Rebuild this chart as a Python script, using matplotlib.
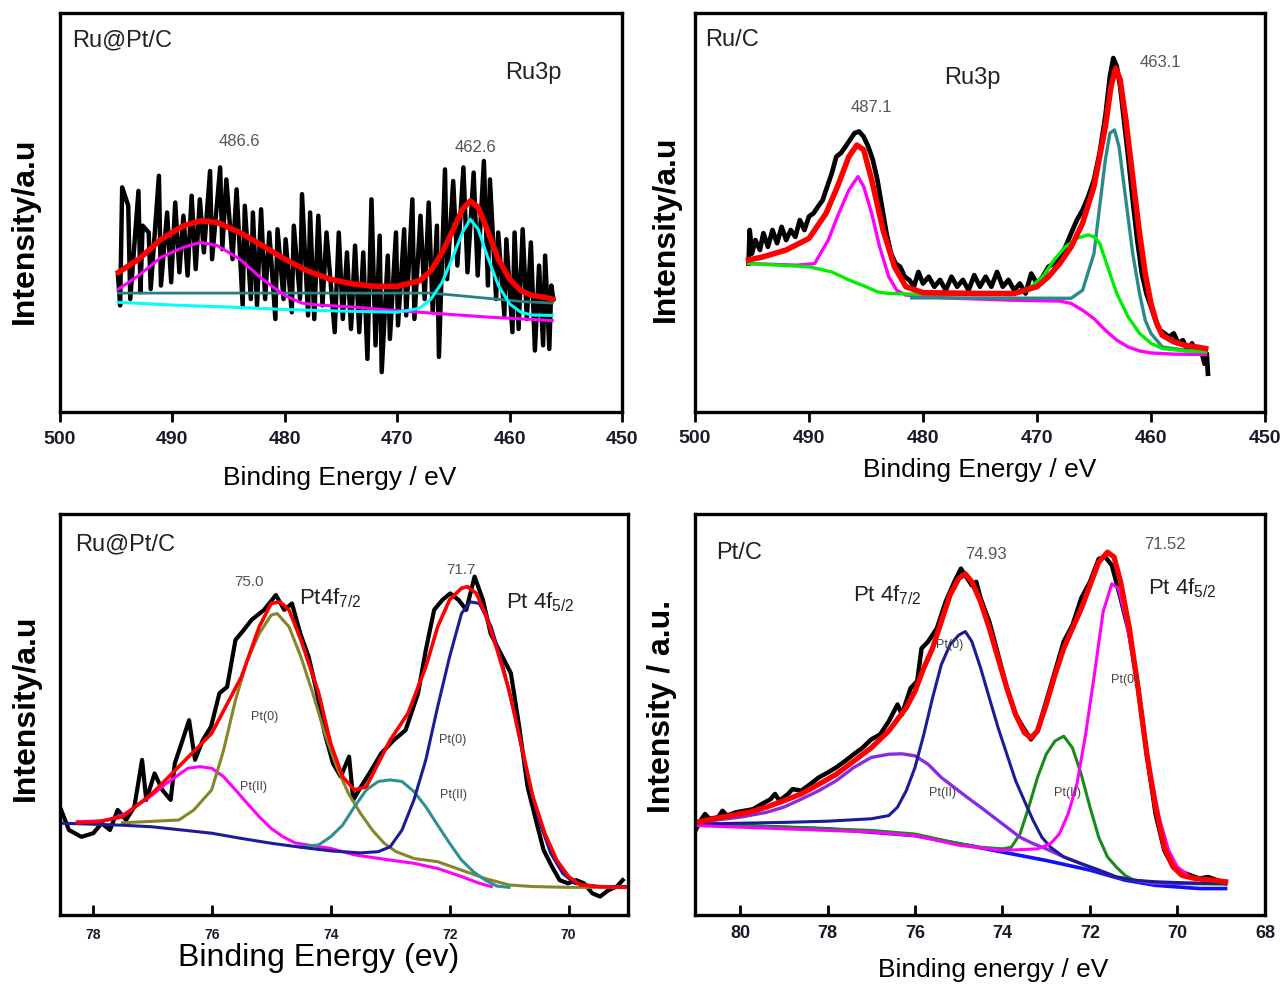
import numpy as np
import matplotlib
matplotlib.use("Agg")
import matplotlib.pyplot as plt

plt.rcParams['font.family'] = ['Liberation Sans', 'DejaVu Sans']
plt.rcParams['mathtext.default'] = 'regular'

# ---------------- Ru@Pt/C, Ru3p ----------------
p1_raw = [(494.84, 34.2), (494.65, 26.7), (494.47, 56.3), (493.93, 51.7), (493.75, 28.3), (493.02, 55.4),
          (492.84, 30.0), (492.65, 46.7), (492.11, 45.0), (491.93, 30.8), (491.20, 59.2), (491.02, 31.7),
          (490.47, 50.0), (490.11, 32.5), (489.75, 52.5), (489.38, 35.0), (489.02, 49.2), (488.65, 34.2),
          (488.29, 54.2), (487.93, 35.8), (487.56, 53.3), (487.20, 40.0), (486.65, 60.4), (486.47, 38.3),
          (485.75, 61.3), (485.56, 40.8), (485.20, 58.3), (484.65, 38.3), (484.29, 55.8), (483.75, 26.7),
          (483.56, 51.7), (483.02, 28.3), (482.84, 50.0), (482.47, 26.7), (482.11, 50.8), (481.75, 28.3),
          (481.38, 45.0), (480.84, 23.3), (480.65, 45.8), (480.11, 28.3), (479.93, 43.3), (479.38, 25.0),
          (479.20, 46.7), (478.65, 28.3), (478.47, 54.6), (477.93, 24.2), (477.75, 50.0), (477.38, 23.3),
          (477.02, 49.2), (476.65, 26.7), (476.29, 45.0), (475.56, 20.0), (475.20, 45.0), (474.84, 23.3),
          (474.47, 40.0), (474.11, 20.8), (473.75, 41.7), (473.38, 20.0), (473.02, 40.0), (472.65, 13.3),
          (472.29, 53.3), (471.93, 16.7), (471.56, 44.2), (471.38, 10.0), (470.84, 39.2), (470.65, 18.3),
          (470.11, 45.0), (469.93, 21.7), (469.38, 45.8), (469.20, 24.2), (468.65, 53.3), (468.47, 23.3),
          (467.93, 49.2), (467.56, 28.3), (467.20, 52.5), (466.84, 25.0), (466.47, 46.7), (466.29, 13.8),
          (465.75, 60.8), (465.56, 33.3), (465.02, 57.9), (464.65, 36.7), (464.11, 61.3), (463.75, 35.0),
          (463.20, 60.0), (462.84, 34.2), (462.29, 62.9), (461.93, 31.7), (461.75, 58.3), (461.20, 28.3),
          (461.02, 45.0), (460.47, 24.2), (460.29, 43.3), (459.75, 20.0), (459.56, 45.0), (459.20, 20.8),
          (458.84, 45.8), (458.47, 23.3), (458.11, 42.5), (457.75, 15.4), (457.38, 36.7), (457.02, 16.7),
          (456.84, 39.2), (456.47, 15.8), (456.29, 31.7), (456.11, 28.3)]
p1_fit = [(494.8, 35.0), (493, 38.3), (491, 43.3), (489, 46.7), (487.5, 47.9), (486, 47.5), (484, 45.0),
          (482, 41.7), (480, 38.3), (478, 35.4), (476, 33.3), (474, 32.1), (472, 31.5), (470, 31.5),
          (468, 32.9), (467, 35.4), (466, 40.0), (465, 45.8), (464.2, 50.8), (463.5, 52.9), (462.8, 51.3),
          (462, 45.8), (461, 38.3), (460, 33.3), (459, 30.4), (458, 29.2), (457, 28.8), (456.2, 28.3)]
p1_mag = [(494.8, 30.8), (493, 34.2), (491, 38.8), (489, 41.3), (487.5, 42.5), (486, 41.7), (484, 38.3),
          (482, 33.3), (480, 29.2), (478.5, 27.3), (477, 26.8), (474, 26.3), (470, 25.4), (466, 24.6),
          (462, 23.8), (458, 23.2), (456.2, 22.9)]
p1_teal = [(494.8, 29.8), (467, 29.8), (465, 29.3), (462, 28.5), (459, 27.7), (456.2, 27.3)]
p1_cyan = [(494.8, 27.5), (490, 26.8), (485, 26.3), (480, 25.7), (475, 25.3), (470, 25.0), (468, 26.0),
           (467, 28.3), (466, 32.5), (465, 39.2), (464.2, 45.0), (463.5, 48.3), (462.8, 45.8), (462, 39.2),
           (461, 31.7), (460, 27.1), (459, 25.0), (458, 24.3), (456.2, 24.2)]

# ---------------- Ru/C, Ru3p ----------------
p2_raw = [(495.3, 37.2), (495.2, 45.6), (495.0, 39.7), (494.7, 43.1), (494.3, 40.6), (494.0, 44.8),
          (493.6, 41.4), (493.2, 45.6), (492.8, 42.3), (492.4, 46.4), (492.0, 43.1), (491.6, 45.6),
          (491.2, 43.9), (490.8, 48.1), (490.4, 45.6), (490.0, 49.0), (489.6, 49.8), (489.2, 51.5),
          (488.8, 53.1), (488.4, 56.5), (488.0, 59.8), (487.6, 64.0), (487.2, 64.9), (486.8, 66.5),
          (486.4, 68.2), (486.0, 69.9), (485.6, 70.3), (485.2, 69.0), (484.8, 66.5), (484.4, 63.2),
          (484.0, 58.2), (483.6, 51.5), (483.2, 44.8), (482.8, 39.7), (482.4, 37.2), (482.0, 36.4),
          (481.6, 33.9), (481.2, 33.1), (480.8, 31.4), (480.4, 35.1), (480.0, 32.2), (479.5, 33.9),
          (479.0, 31.4), (478.5, 33.1), (478.0, 30.5), (477.5, 33.9), (477.0, 31.4), (476.5, 33.1),
          (476.0, 30.5), (475.5, 34.3), (475.0, 31.4), (474.5, 33.9), (474.0, 31.4), (473.5, 35.1),
          (473.0, 31.4), (472.5, 33.1), (472.0, 30.5), (471.5, 32.2), (471.0, 29.7), (470.5, 34.7),
          (470.0, 32.2), (469.5, 33.9), (469.0, 36.4), (468.5, 37.2), (468.0, 38.9), (467.5, 41.4),
          (467.0, 44.8), (466.5, 48.1), (466.0, 50.6), (465.5, 54.0), (465.0, 58.2), (464.5, 64.9),
          (464.0, 74.1), (463.6, 84.1), (463.3, 88.7), (463.0, 86.6), (462.7, 81.6), (462.3, 71.5),
          (462.0, 64.0), (461.6, 53.1), (461.2, 43.1), (460.8, 34.7), (460.4, 29.7), (460.0, 26.4),
          (459.6, 23.0), (459.2, 20.5), (458.8, 19.7), (458.4, 18.8), (458.0, 19.7), (457.6, 17.2),
          (457.2, 18.0), (456.8, 15.5), (456.4, 17.2), (456.0, 14.6), (455.6, 15.5), (455.3, 12.1),
          (455.1, 14.6), (455.0, 9.6)]
p2_fit = [(495.3, 38.1), (494, 38.9), (492, 40.6), (490, 43.5), (488.5, 49.8), (487.5, 56.5), (486.5, 64.0),
          (485.8, 66.9), (485.2, 65.7), (484.5, 58.2), (483.5, 45.6), (482.5, 36.4), (481.5, 31.4),
          (480, 29.9), (475, 29.7), (472, 29.7), (470, 31.4), (469, 33.9), (468, 37.2), (467, 41.4),
          (466, 47.3), (465, 56.5), (464, 71.5), (463.5, 81.6), (463.1, 86.2), (462.7, 83.3), (462.2, 73.2),
          (461.5, 56.5), (461, 44.8), (460.5, 34.7), (460, 27.2), (459.5, 22.2), (459, 19.2), (458, 17.6),
          (457, 16.7), (456, 16.3), (455.2, 15.9)]
p2_mag = [(495.3, 37.2), (491, 36.8), (489.5, 37.2), (489, 39.7), (488.3, 43.1), (487.5, 49.0), (486.5, 55.6),
          (485.7, 59.0), (485.2, 56.5), (484.5, 49.8), (483.8, 41.4), (483, 33.9), (482.3, 30.5),
          (481.5, 29.3), (478, 28.6), (475, 28.3), (472, 28.0), (468, 27.8), (467, 27.2), (466, 25.5),
          (465, 23.4), (464, 20.5), (463, 18.0), (462, 16.3), (461, 15.3), (460, 14.8), (458, 14.5),
          (455.2, 14.4)]
p2_green = [(495.3, 37.2), (490, 36.4), (488, 35.1), (486.5, 33.1), (485, 31.4), (484, 30.1), (483, 29.7),
            (480, 29.5), (475, 29.5), (472, 29.7), (470.5, 31.4), (469.5, 33.9), (468.5, 38.1), (467.5, 41.4),
            (466.5, 43.5), (465.5, 44.4), (465, 43.9), (464.5, 42.3), (464, 38.1), (463.5, 33.9), (463, 29.7),
            (462, 23.8), (461, 19.7), (460, 17.2), (459, 15.9), (457, 15.3), (455.2, 15.1)]
p2_teal = [(481, 28.6), (467, 28.5), (466, 30.5), (465, 39.7), (464.5, 51.5), (464, 63.2), (463.6, 69.9),
           (463.2, 70.7), (462.8, 66.5), (462.2, 53.1), (461.6, 39.7), (461, 29.7), (460.5, 23.0),
           (460, 19.7), (459, 16.3), (457, 15.5), (455.2, 15.1)]

# ---------------- Ru@Pt/C, Pt4f ----------------
p3_raw = [(78.53, 26.2), (78.40, 21.2), (78.19, 19.5), (77.99, 20.4), (77.85, 22.9), (77.71, 21.2),
          (77.58, 26.2), (77.44, 23.7), (77.30, 27.0), (77.17, 38.7), (77.10, 28.7), (76.96, 35.3),
          (76.83, 31.2), (76.69, 28.7), (76.62, 37.8), (76.49, 43.6), (76.38, 48.6), (76.28, 38.7),
          (76.15, 43.6), (76.01, 47.0), (75.87, 55.3), (75.74, 56.9), (75.60, 68.6), (75.46, 71.1),
          (75.33, 73.6), (75.12, 76.1), (74.92, 79.8), (74.78, 76.1), (74.65, 77.7), (74.51, 70.2),
          (74.37, 64.4), (74.24, 56.1), (74.10, 45.3), (73.96, 37.8), (73.83, 34.5), (73.69, 39.5),
          (73.62, 28.7), (73.49, 32.0), (73.35, 35.3), (73.15, 40.3), (72.94, 43.6), (72.74, 46.1),
          (72.53, 55.3), (72.40, 66.1), (72.26, 76.1), (72.12, 78.6), (71.99, 80.2), (71.85, 78.6),
          (71.72, 76.1), (71.58, 84.4), (71.44, 78.6), (71.31, 70.2), (71.17, 66.1), (70.97, 60.3),
          (70.83, 47.0), (70.69, 32.0), (70.55, 23.7), (70.42, 16.2), (70.28, 12.1), (70.15, 8.7),
          (70.01, 7.9), (69.87, 8.7), (69.74, 7.9), (69.60, 5.4), (69.47, 4.6), (69.33, 6.2),
          (69.19, 7.1), (69.09, 8.7)]
p3_fit = [(78.25, 23.0), (77.9, 23.3), (77.5, 24.5), (77.0, 30.3), (76.5, 37.8), (76.0, 45.3), (75.5, 59.4),
          (75.2, 71.9), (75.0, 77.7), (74.85, 78.1), (74.7, 76.1), (74.5, 68.6), (74.2, 55.3), (74.0, 42.8),
          (73.8, 34.5), (73.6, 31.2), (73.4, 32.0), (73.2, 37.8), (73.0, 43.6), (72.7, 50.3), (72.4, 61.9),
          (72.2, 71.9), (72.0, 78.6), (71.8, 81.5), (71.7, 81.9), (71.55, 80.2), (71.4, 75.2), (71.2, 66.1),
          (71.0, 56.1), (70.8, 42.8), (70.6, 29.5), (70.4, 20.4), (70.2, 13.7), (70.0, 9.6), (69.8, 7.5),
          (69.5, 7.1), (69.05, 6.9)]
p3_olive = [(77.5, 23.0), (76.55, 23.7), (76.3, 26.2), (76.0, 31.2), (75.8, 41.1), (75.6, 53.6), (75.4, 63.6),
            (75.2, 70.2), (75.0, 74.8), (74.9, 75.2), (74.7, 71.9), (74.5, 64.4), (74.3, 55.3), (74.1, 45.3),
            (73.9, 37.0), (73.7, 30.3), (73.5, 25.4), (73.3, 21.2), (73.1, 17.9), (72.9, 15.8), (72.6, 14.1),
            (72.2, 13.3), (71.8, 11.2), (71.4, 9.1), (71.0, 7.5), (70.6, 7.1), (70.0, 6.9), (69.1, 6.9)]
p3_mag = [(78.26, 23.3), (77.8, 23.5), (77.5, 24.9), (77.2, 27.8), (77.0, 29.9), (76.8, 32.4), (76.6, 34.5),
          (76.4, 36.6), (76.2, 37.0), (76.0, 36.6), (75.8, 34.5), (75.6, 31.2), (75.4, 27.8), (75.2, 24.5),
          (75.0, 21.6), (74.8, 19.5), (74.6, 18.0), (74.4, 17.5), (74.0, 16.6), (73.6, 15.0), (73.0, 13.7),
          (72.6, 12.9), (72.2, 11.6), (71.8, 9.6), (71.5, 7.9), (71.3, 7.1)]
p3_teal = [(74.51, 17.0), (74.2, 17.5), (74.0, 19.5), (73.8, 22.4), (73.6, 27.0), (73.4, 31.2), (73.2, 33.3),
           (73.0, 33.7), (72.8, 33.3), (72.6, 30.8), (72.4, 27.0), (72.2, 22.4), (72.0, 17.9), (71.8, 13.7),
           (71.6, 10.8), (71.4, 8.7), (71.2, 7.2), (71.0, 6.9)]
p3_navy = [(78.53, 22.9), (77.5, 22.4), (77.0, 22.0), (76.5, 21.2), (76.0, 20.4), (75.5, 19.1), (75.0, 17.9),
           (74.5, 16.9), (74.0, 16.0), (73.5, 15.5), (73.2, 15.8), (73.0, 17.0), (72.8, 21.2), (72.6, 28.7),
           (72.4, 38.7), (72.2, 52.0), (72.0, 64.4), (71.8, 75.2), (71.65, 78.1), (71.5, 77.7), (71.3, 71.9),
           (71.1, 61.9), (70.9, 49.5), (70.7, 35.3), (70.5, 23.7), (70.3, 15.4), (70.1, 10.4), (69.9, 7.9),
           (69.5, 7.1), (69.01, 7.1)]

# ---------------- Pt/C, Pt4f ----------------
p4_raw = [(81.0, 21.5), (80.9, 23.6), (80.8, 25.2), (80.7, 24.0), (80.5, 24.4), (80.4, 26.0), (80.3, 24.8),
          (80.1, 25.6), (79.9, 26.0), (79.7, 26.4), (79.5, 27.7), (79.3, 28.9), (79.2, 30.2), (79.1, 28.5),
          (78.9, 30.2), (78.8, 31.4), (78.6, 31.0), (78.4, 32.6), (78.2, 34.3), (78.0, 35.5), (77.8, 36.8),
          (77.6, 38.4), (77.4, 40.1), (77.2, 41.7), (77.0, 43.8), (76.8, 45.0), (76.6, 48.3), (76.4, 52.5),
          (76.3, 50.0), (76.1, 56.6), (75.95, 58.3), (75.85, 66.5), (75.7, 68.2), (75.5, 71.5), (75.3, 78.1),
          (75.1, 83.1), (74.95, 86.4), (74.85, 84.7), (74.7, 82.2), (74.6, 83.1), (74.5, 79.0), (74.3, 73.1),
          (74.1, 64.9), (73.9, 56.6), (73.7, 50.0), (73.5, 46.3), (73.35, 43.8), (73.2, 45.9), (73.0, 53.3),
          (72.8, 60.7), (72.6, 68.2), (72.4, 72.3), (72.2, 79.0), (72.0, 83.1), (71.8, 88.8), (71.65, 89.3),
          (71.5, 87.2), (71.3, 79.0), (71.1, 70.2), (70.9, 56.6), (70.7, 40.1), (70.5, 25.2), (70.3, 16.1),
          (70.1, 12.0), (69.9, 10.7), (69.7, 9.9), (69.5, 9.1), (69.3, 9.5), (69.1, 8.7), (68.9, 7.9)]
p4_fit = [(81.0, 23.1), (80.6, 24.0), (80.2, 24.8), (79.8, 25.6), (79.4, 26.9), (79.0, 28.5), (78.6, 30.2),
          (78.2, 32.6), (77.8, 35.1), (77.4, 38.4), (77.0, 41.7), (76.6, 45.9), (76.2, 51.7), (76.0, 55.8),
          (75.8, 61.6), (75.6, 66.5), (75.4, 73.1), (75.2, 79.8), (75.0, 83.9), (74.85, 85.1), (74.7, 83.1),
          (74.5, 78.1), (74.3, 71.5), (74.1, 64.0), (73.9, 56.6), (73.7, 50.0), (73.5, 45.5), (73.35, 44.2),
          (73.2, 45.9), (73.0, 52.5), (72.8, 59.9), (72.6, 66.5), (72.4, 71.5), (72.2, 76.4), (72.0, 82.2),
          (71.8, 88.0), (71.6, 90.5), (71.45, 89.3), (71.3, 83.1), (71.1, 71.5), (70.9, 56.6), (70.7, 40.1),
          (70.5, 26.9), (70.3, 16.9), (70.1, 12.0), (69.9, 9.9), (69.6, 9.1), (69.2, 8.7), (68.9, 8.3)]
p4_navy = [(81.0, 22.7), (79.0, 23.1), (78.0, 23.4), (77.0, 24.0), (76.6, 24.8), (76.4, 26.9), (76.2, 31.0),
           (76.0, 36.8), (75.8, 45.0), (75.6, 54.1), (75.4, 62.4), (75.2, 67.4), (75.0, 69.8), (74.85, 70.7),
           (74.7, 68.2), (74.5, 61.6), (74.3, 54.1), (74.1, 46.7), (73.9, 40.1), (73.7, 33.5), (73.5, 28.5),
           (73.3, 23.6), (73.1, 19.4), (72.9, 16.9), (72.6, 14.5), (72.2, 12.8), (71.8, 11.2), (71.4, 9.5),
           (71.0, 8.7), (70.5, 8.3), (69.5, 7.9), (68.9, 7.9)]
p4_purple = [(81.0, 23.1), (80.0, 24.4), (79.4, 25.6), (79.0, 26.9), (78.6, 28.9), (78.2, 31.0), (77.8, 33.5),
             (77.4, 36.8), (77.0, 39.3), (76.6, 40.1), (76.3, 40.2), (76.0, 39.7), (75.7, 37.6), (75.4, 34.3),
             (75.1, 31.8), (74.8, 29.3), (74.5, 26.9), (74.2, 24.4), (73.9, 21.9), (73.6, 19.4), (73.3, 17.8),
             (73.0, 16.5), (72.6, 14.5), (72.2, 12.8), (71.8, 11.2), (71.4, 9.5), (71.0, 8.7), (70.5, 7.9),
             (69.5, 7.9), (68.9, 7.9)]
p4_green = [(81.0, 22.7), (79.0, 21.9), (77.0, 21.1), (76.0, 20.2), (75.5, 19.0), (75.0, 17.8), (74.5, 16.9),
            (74.0, 16.5), (73.8, 16.9), (73.6, 20.2), (73.4, 26.9), (73.2, 34.3), (73.0, 40.1), (72.8, 43.4),
            (72.6, 44.6), (72.4, 41.7), (72.2, 35.1), (72.0, 26.9), (71.8, 19.4), (71.6, 14.5), (71.4, 12.0),
            (71.2, 9.9), (71.0, 8.7), (70.5, 7.9), (68.9, 7.7)]
p4_mag = [(81.0, 22.3), (79.0, 21.5), (77.0, 20.7), (76.0, 19.8), (75.0, 17.4), (74.0, 16.1), (73.2, 16.5),
          (72.9, 17.8), (72.7, 20.2), (72.5, 25.2), (72.3, 32.6), (72.1, 45.0), (71.9, 59.9), (71.7, 75.6),
          (71.5, 82.6), (71.35, 81.4), (71.2, 74.8), (71.0, 63.2), (70.8, 48.3), (70.6, 34.3), (70.4, 23.6),
          (70.2, 16.1), (70.0, 12.0), (69.7, 9.5), (69.2, 8.7), (68.9, 8.3)]
p4_blue = [(81.0, 22.7), (78.0, 21.5), (76.0, 19.8), (75.0, 17.8), (74.0, 15.7), (73.0, 13.6), (72.0, 11.2),
           (71.2, 8.7), (70.5, 7.4), (69.5, 6.6), (68.9, 6.6)]

ru_ticks = [500, 490, 480, 470, 460, 450]
p3_ticks = [78, 76, 74, 72, 70]
p4_ticks = [80, 78, 76, 74, 72, 70, 68]


def line(ax, pts, color, lw):
    e, i = np.array(pts).T
    ax.plot(e, i, color=color, lw=lw, solid_joinstyle='round')


def frame(ax, xlim, ticks, tickdir, tick_fs, tick_pad):
    ax.set_xlim(*xlim)
    ax.set_ylim(0, 100)
    ax.set_yticks([])
    ax.set_xticks(ticks)
    ax.tick_params(axis='x', direction=tickdir, length=7, width=2, pad=tick_pad,
                   labelsize=tick_fs, labelcolor='#1a1a2a', top=False)
    for lab in ax.get_xticklabels():
        lab.set_fontweight('bold')
    for s in ax.spines.values():
        s.set_linewidth(2.4)


fig = plt.figure(figsize=(12.82, 9.84), dpi=100)
ax1 = fig.add_axes([0.0468, 0.5813, 0.4384, 0.4055])
ax2 = fig.add_axes([0.5421, 0.5813, 0.4446, 0.4055])
ax3 = fig.add_axes([0.0468, 0.0701, 0.4431, 0.4075])
ax4 = fig.add_axes([0.5421, 0.0701, 0.4446, 0.4075])

# panel 1
line(ax1, p1_raw, 'black', 3.2)
line(ax1, p1_teal, '#2a8080', 2.0)
line(ax1, p1_mag, '#ff00ff', 2.2)
line(ax1, p1_cyan, '#00ffff', 2.2)
line(ax1, p1_fit, '#ff0000', 4.0)
frame(ax1, (500, 450), ru_ticks, 'out', 14, 7)
ax1.set_xlabel('Binding Energy / eV', fontsize=19, va='center')
ax1.xaxis.set_label_coords(0.498, -0.165)
ax1.set_ylabel('Intensity/a.u', fontsize=23, fontweight='bold', va='center')
ax1.yaxis.set_label_coords(-0.062, 0.454)
ax1.text(0.021, 0.932, 'Ru@Pt/C', transform=ax1.transAxes, fontsize=17, va='center', color='#222')
ax1.text(0.792, 0.85, 'Ru3p', transform=ax1.transAxes, fontsize=17, va='center', color='#222')
ax1.text(0.32, 0.677, '486.6', transform=ax1.transAxes, fontsize=12, ha='center', va='center', color='#555')
ax1.text(0.74, 0.662, '462.6', transform=ax1.transAxes, fontsize=12, ha='center', va='center', color='#555')

# panel 2
line(ax2, p2_raw, 'black', 3.4)
line(ax2, p2_mag, '#ff00ff', 2.4)
line(ax2, p2_teal, '#2a8a8a', 2.4)
line(ax2, p2_green, '#00ee00', 2.4)
line(ax2, p2_fit, '#ff0000', 4.0)
frame(ax2, (500, 450), ru_ticks, 'out', 14, 6)
ax2.set_xlabel('Binding Energy / eV', fontsize=19, va='center')
ax2.xaxis.set_label_coords(0.5, -0.145)
ax2.set_ylabel('Intensity/a.u', fontsize=23, fontweight='bold', va='center')
ax2.yaxis.set_label_coords(-0.051, 0.459)
ax2.text(0.018, 0.932, 'Ru/C', transform=ax2.transAxes, fontsize=17, va='center', color='#222')
ax2.text(0.437, 0.837, 'Ru3p', transform=ax2.transAxes, fontsize=17, va='center', color='#222')
ax2.text(0.309, 0.764, '487.1', transform=ax2.transAxes, fontsize=12, ha='center', va='center', color='#555')
ax2.text(0.816, 0.877, '463.1', transform=ax2.transAxes, fontsize=12, ha='center', va='center', color='#555')

# panel 3
line(ax3, p3_raw, 'black', 3.0)
line(ax3, p3_mag, '#ff00ff', 2.2)
line(ax3, p3_olive, '#85852a', 2.2)
line(ax3, p3_teal, '#2e9090', 2.2)
line(ax3, p3_navy, '#1c1c96', 2.2)
line(ax3, p3_fit, '#ff0000', 2.6)
frame(ax3, (78.55, 69.0), p3_ticks, 'in', 10, 9)
ax3.set_xlabel('Binding Energy (ev)', fontsize=23, va='center')
ax3.xaxis.set_label_coords(0.456, -0.107)
ax3.set_ylabel('Intensity/a.u', fontsize=23, fontweight='bold', va='center')
ax3.yaxis.set_label_coords(-0.06, 0.516)
ax3.text(0.026, 0.923, 'Ru@Pt/C', transform=ax3.transAxes, fontsize=17, va='center', color='#222')
ax3.text(0.333, 0.83, '75.0', transform=ax3.transAxes, fontsize=11, ha='center', va='center', color='#555')
ax3.text(0.705, 0.86, '71.7', transform=ax3.transAxes, fontsize=11, ha='center', va='center', color='#555')
ax3.text(0.42, 0.79, 'Pt4f$_{7/2}$', transform=ax3.transAxes, fontsize=16, va='center', color='#222')
ax3.text(0.785, 0.78, 'Pt 4f$_{5/2}$', transform=ax3.transAxes, fontsize=16, va='center', color='#222')
for x, y, s in [(0.361, 0.494, 'Pt(0)'), (0.34, 0.319, 'Pt(II)'), (0.692, 0.436, 'Pt(0)'), (0.692, 0.299, 'Pt(II)')]:
    ax3.text(x, y, s, transform=ax3.transAxes, fontsize=9, ha='center', va='center', color='#444')

# panel 4
line(ax4, p4_raw, 'black', 3.2)
line(ax4, p4_blue, '#1010ff', 2.6)
line(ax4, p4_green, '#1a8a1a', 2.2)
line(ax4, p4_purple, '#8a2be2', 2.4)
line(ax4, p4_navy, '#1c1c96', 2.2)
line(ax4, p4_mag, '#ff00ff', 2.2)
line(ax4, p4_fit, '#ff0000', 3.8)
frame(ax4, (81.03, 68.0), p4_ticks, 'in', 13, 7)
ax4.set_xlabel('Binding energy / eV', fontsize=19, va='center')
ax4.xaxis.set_label_coords(0.523, -0.137)
ax4.set_ylabel('Intensity / a.u.', fontsize=23, fontweight='bold', va='center')
ax4.yaxis.set_label_coords(-0.058, 0.519)
ax4.text(0.037, 0.903, 'Pt/C', transform=ax4.transAxes, fontsize=17, va='center', color='#222')
ax4.text(0.51, 0.898, '74.93', transform=ax4.transAxes, fontsize=12, ha='center', va='center', color='#555')
ax4.text(0.825, 0.923, '71.52', transform=ax4.transAxes, fontsize=12, ha='center', va='center', color='#555')
ax4.text(0.277, 0.798, 'Pt 4f$_{7/2}$', transform=ax4.transAxes, fontsize=16, va='center', color='#222')
ax4.text(0.795, 0.815, 'Pt 4f$_{5/2}$', transform=ax4.transAxes, fontsize=16, va='center', color='#222')
for x, y, s in [(0.446, 0.673, 'Pt(0)'), (0.435, 0.304, 'Pt(II)'), (0.654, 0.304, 'Pt(II)'), (0.753, 0.586, 'Pt(0)')]:
    ax4.text(x, y, s, transform=ax4.transAxes, fontsize=9, ha='center', va='center', color='#444')

fig.savefig('out.png', dpi=100)
